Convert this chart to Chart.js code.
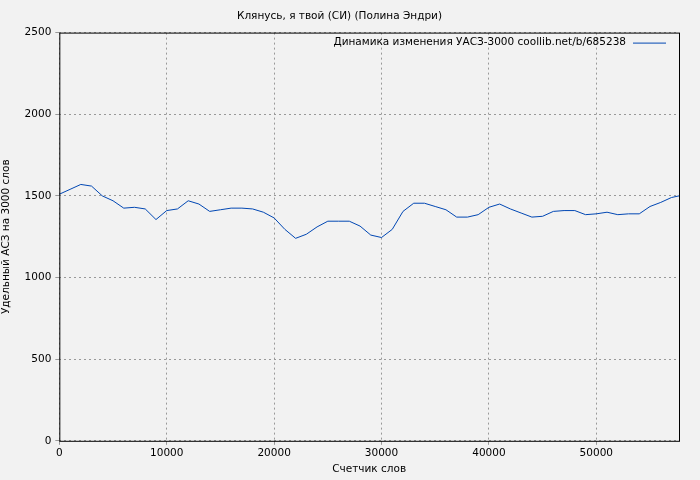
<!DOCTYPE html>
<html><head><meta charset="utf-8">
<script src="https://cdn.jsdelivr.net/npm/chart.js@4/dist/chart.umd.min.js"></script>
<style>html,body{margin:0;background:#f2f2f2}#wrap{width:700px;height:480px}</style>
</head><body><div id="wrap"><canvas id="c"></canvas></div>
<script>
const words = [0,1000,2000,3000,4000,5000,6000,7000,8000,9000,10000,11000,12000,13000,14000,15000,16000,17000,18000,19000,20000,21000,22000,23000,24000,25000,26000,27000,28000,29000,30000,31000,32000,33000,34000,35000,36000,37000,38000,39000,40000,41000,42000,43000,44000,45000,46000,47000,48000,49000,50000,51000,52000,53000,54000,55000,56000,57000,57700];
const asz = [1510,1540,1570,1560,1500,1470,1425,1430,1420,1355,1410,1420,1470,1450,1405,1415,1425,1425,1420,1400,1365,1295,1240,1265,1310,1345,1345,1345,1315,1260,1245,1295,1405,1455,1455,1435,1415,1370,1370,1385,1430,1450,1420,1395,1370,1375,1405,1410,1410,1385,1390,1400,1385,1390,1390,1435,1460,1490,1500];
const xTicks = [0,10000,20000,30000,40000,50000];
const legendLabel = 'Динамика изменения УАСЗ-3000 coollib.net/b/685238';
const font = 'DejaVu Sans';

const frame = {
  id: 'frame',
  afterDraw(chart) {
    const {ctx, chartArea: a} = chart;
    ctx.save();
    ctx.strokeStyle = '#000'; ctx.lineWidth = 1;
    ctx.strokeRect(a.left + 0.5, a.top + 0.5, a.right - a.left, a.bottom - a.top);
    ctx.font = '10.5px ' + font; ctx.fillStyle = '#000';
    ctx.textAlign = 'right'; ctx.textBaseline = 'middle';
    const y = a.top + 10;
    ctx.fillText(legendLabel, a.right - 53, y);
    ctx.strokeStyle = '#0047b3';
    ctx.beginPath(); ctx.moveTo(a.right - 46, y + 0.5); ctx.lineTo(a.right - 13, y + 0.5); ctx.stroke();
    ctx.restore();
  }
};

const tickFont = { family: font, size: 10.5 };

new Chart(document.getElementById('c'), {
  type: 'line',
  data: { datasets: [{ data: words.map((w, i) => ({x: w, y: asz[i]})), borderColor: '#0047b3', borderWidth: 1, pointRadius: 0, tension: 0 }] },
  options: {
    responsive: true, maintainAspectRatio: false, animation: false,
    layout: { padding: { left: 0, right: 21, top: 0, bottom: 0 } },
    plugins: {
      legend: { display: false },
      title: { display: true, text: 'Клянусь, я твой (СИ) (Полина Эндри)', color: '#000', font: { family: font, size: 10.5, weight: 'normal' }, padding: { top: 10, bottom: 10 } },
      tooltip: { enabled: false }
    },
    scales: {
      x: {
        type: 'linear', min: 0, max: 57700,
        afterBuildTicks(s) { s.ticks = xTicks.map(v => ({value: v})); },
        grid: { color: '#999', tickLength: 4 },
        border: { display: false, dash: [2, 3] },
        ticks: { color: '#000', font: tickFont, maxRotation: 0, padding: 2, callback: v => String(v) },
        title: { display: true, text: 'Счетчик слов', color: '#000', font: tickFont, padding: { top: 2, bottom: 4 } }
      },
      y: {
        min: 0, max: 2500,
        grid: { color: '#999', tickLength: 4 },
        border: { display: false, dash: [2, 3] },
        ticks: { stepSize: 500, color: '#000', font: tickFont, padding: 4, callback: v => String(v) },
        title: { display: true, text: 'Удельный АСЗ на 3000 слов', color: '#000', font: tickFont, padding: { top: 0, bottom: 8 } }
      }
    }
  },
  plugins: [frame]
});
</script></body></html>
